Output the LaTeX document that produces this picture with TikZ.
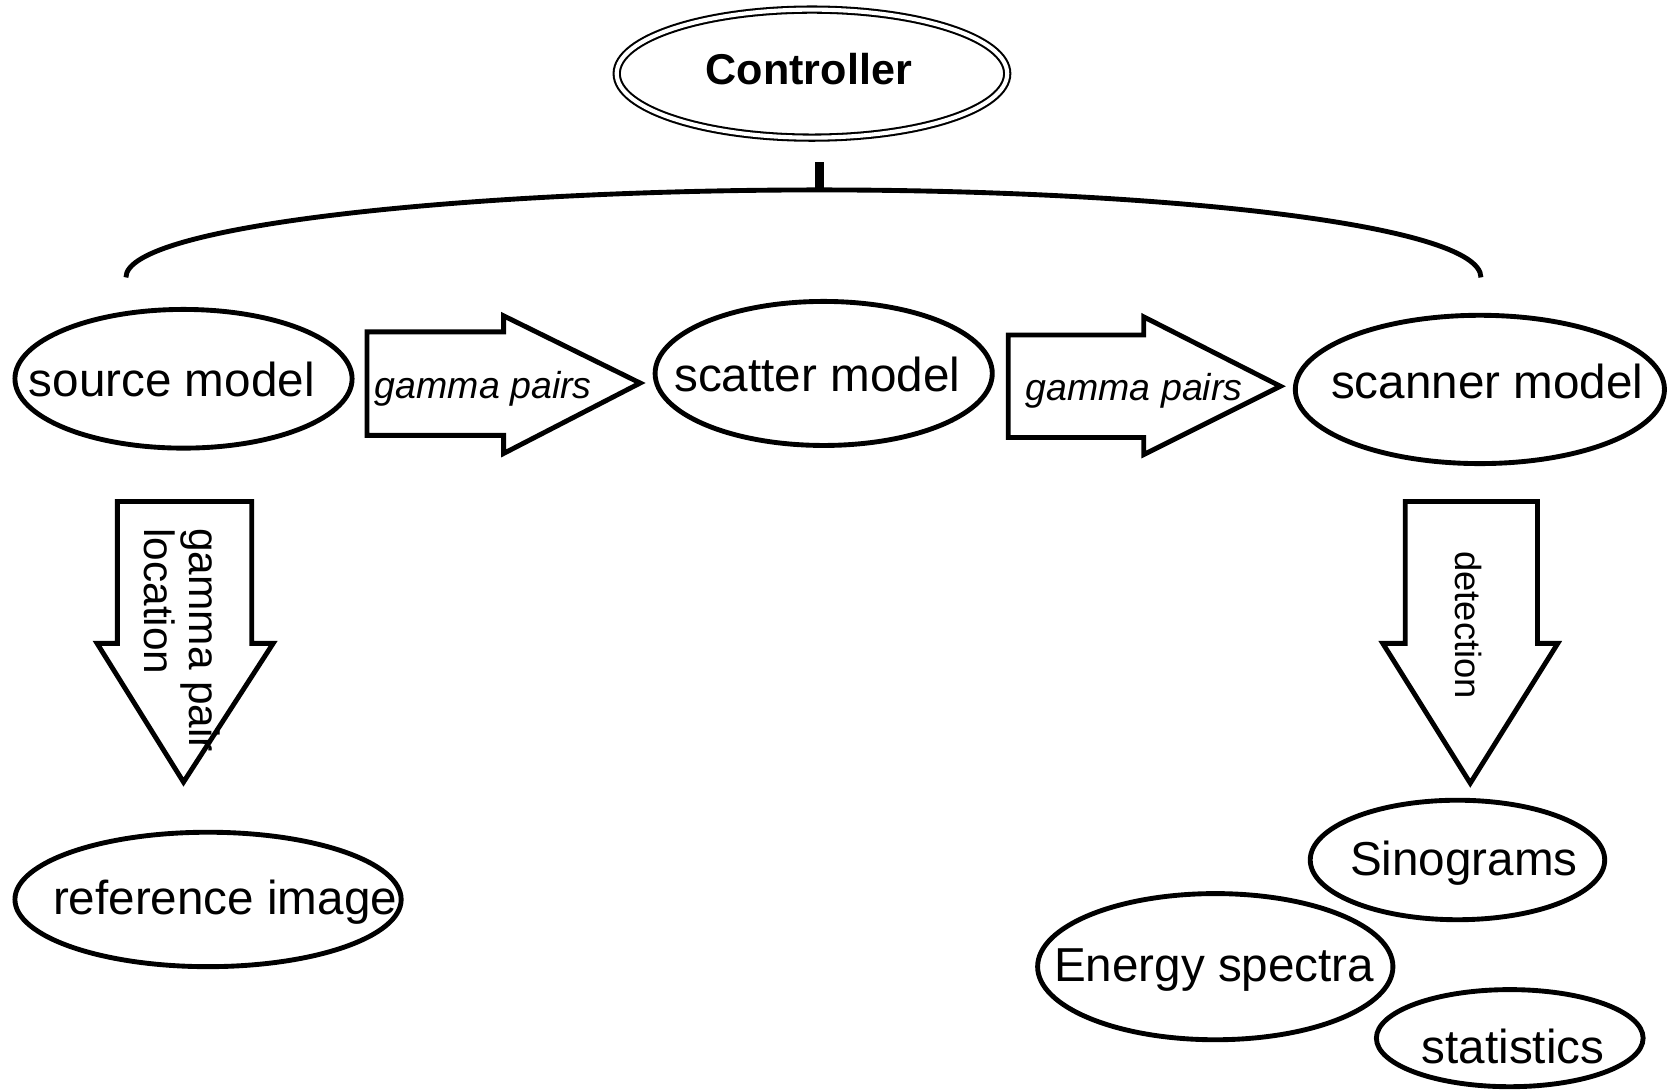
\documentclass[tikz,border=0pt]{standalone}
\usepackage{fontspec}
\setmainfont{Liberation Sans}
\usetikzlibrary{shapes.geometric}

\tikzset{
  model/.style={draw, ellipse, line width=1.3pt, inner sep=0pt},
  mtext/.style={font=\fontsize{12.7}{15}\selectfont, inner sep=0pt},
  block/.style={draw, line width=1.3pt, line join=miter, fill=white},
  flow/.style={font=\itshape\fontsize{10}{12}\selectfont, inner sep=0pt},
  down/.style={font=\fontsize{11.3}{12}\selectfont, inner sep=0pt, rotate=-90, align=left}
}

\begin{document}
\begin{tikzpicture}[x=0.1mm, y=-0.1mm]
  % Page
  \useasboundingbox (0,0) rectangle (1568,1021);

  % Controller
  \node[model, double, double distance=1.1pt, line width=0.55pt,
        minimum width=3.66cm, minimum height=1.2cm] (ctrl) at (761,69) {};
  \node[font=\bfseries\fontsize{11.5}{14}\selectfont, inner sep=0pt] (ctrltxt) at (758,65) {Controller};

  % Bracket
  \coordinate (hook) at (768,152);
  \coordinate (mid) at (768,178);
  \coordinate (brl) at (118,260);
  \coordinate (brr) at (1388,260);
  \draw[line width=2.2pt] (hook) -- (mid);
  \draw[line width=1.3pt] (brl) .. controls (118,210) and (450,178) .. (mid)
                          .. controls (1085,178) and (1388,210) .. (brr);

  % Models
  \node[model, minimum width=3.16cm, minimum height=1.3cm] (src) at (172,355) {};
  \node[mtext] (srctxt) at (161,356) {source model};
  \node[model, minimum width=3.16cm, minimum height=1.35cm] (sct) at (772,350) {};
  \node[mtext] (scttxt) at (766,351) {scatter model};
  \node[model, minimum width=3.46cm, minimum height=1.39cm] (scn) at (1387,365) {};
  \node[mtext] (scntxt) at (1394,358) {scanner model};

  % Flow arrows
  \draw[block] (344,311) -- (472,311) -- (472,296) -- (600,359)
               -- (472,425) -- (472,408) -- (344,408) -- cycle;
  \node[flow] (gp1) at (453,364) {gamma pairs};
  \draw[block] (945,314) -- (1072,314) -- (1072,297) -- (1200,362)
               -- (1072,426) -- (1072,410) -- (945,410) -- cycle;
  \node[flow] (gp2) at (1063,366) {gamma pairs};

  % Down arrows
  \draw[block] (110,470) -- (236,470) -- (236,603) -- (256,603)
               -- (172,733) -- (91,603) -- (110,603) -- cycle;
  \node[down] (loc) at (171,600) {gamma pair\\location};
  \draw[block] (1317,470) -- (1441,470) -- (1441,603) -- (1460,603)
               -- (1378,734) -- (1296,603) -- (1317,603) -- cycle;
  \node[down, font=\fontsize{9.7}{12}\selectfont] (det) at (1376,586) {detection};

  % Outputs
  \node[model, minimum width=3.62cm, minimum height=1.26cm] (ref) at (195,843) {};
  \node[mtext] (reftxt) at (211,846) {reference image};
  \node[model, minimum width=2.76cm, minimum height=1.12cm] (sino) at (1366,806) {};
  \node[mtext] (sinotxt) at (1372,809) {Sinograms};
  \node[model, minimum width=3.33cm, minimum height=1.37cm] (nrg) at (1139,906) {};
  \node[mtext] (nrgtxt) at (1138,909) {Energy spectra};
  \node[model, minimum width=2.5cm, minimum height=0.91cm] (stat) at (1415,973) {};
  \node[mtext] (stattxt) at (1418,981) {statistics};
\end{tikzpicture}
\end{document}
